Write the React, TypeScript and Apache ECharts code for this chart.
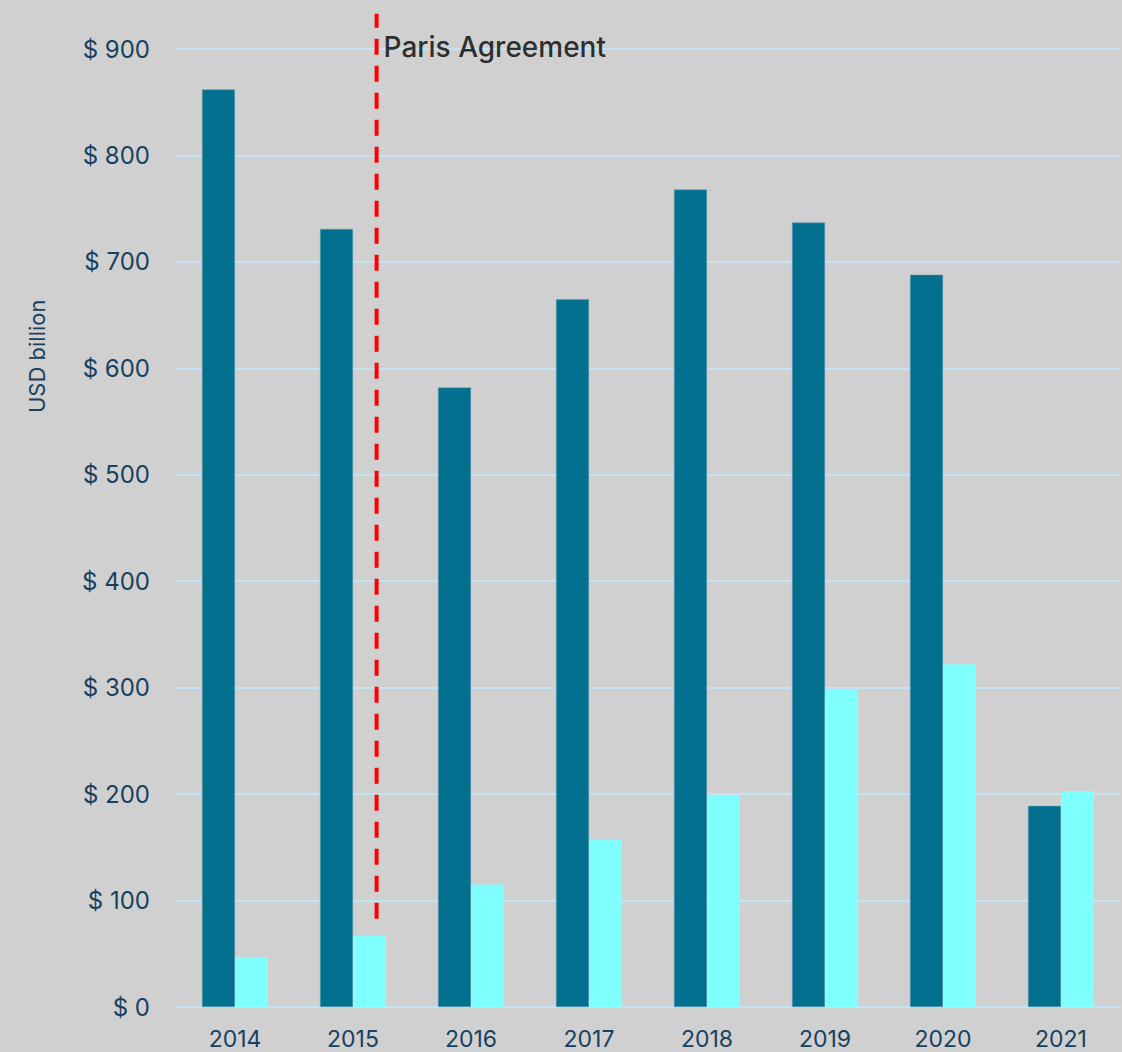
import React, { useEffect, useRef } from "react";
import * as echarts from "echarts";

const years = ["2014", "2015", "2016", "2017", "2018", "2019", "2020", "2021"];
const seriesDark = [862, 731, 582, 665, 768, 737, 688, 189];
const seriesLight = [47, 67, 115, 157, 199, 298, 322, 203];
const yTicks = { min: 0, max: 900, interval: 100 };
const parisX = 1.2; // position between categories (index units)
const parisLine = [[parisX, 83], [parisX, 933]];
const parisLabelPoint = [[parisX, 902]];
const parisLabel = "Paris Agreement";
const yAxisTitle = "USD billion";

const FONT = "Inter, 'Noto Sans', sans-serif";
const NAVY = "#17415f";

export default function App() {
  const ref = useRef<HTMLDivElement>(null);
  useEffect(() => {
    document.body.style.margin = "0";
    document.body.style.overflow = "hidden";
    const chart = echarts.init(ref.current!, null, { renderer: "svg" });
    chart.setOption({
      animation: false,
      backgroundColor: "#d0d0d0",
      grid: { left: 176, right: 2, top: 49, bottom: 45, containLabel: false },
      graphic: [
        {
          type: "text",
          x: 37,
          y: 413,
          rotation: Math.PI / 2,
          style: {
            text: yAxisTitle,
            fill: NAVY,
            fontSize: 22,
            fontFamily: FONT,
            textAlign: "left",
            textVerticalAlign: "middle",
          },
        },
      ],
      xAxis: [
        {
          type: "category",
          data: years,
          axisLine: { show: true, lineStyle: { color: "#c5e3f5", width: 2 } },
          axisTick: { show: false },
          axisLabel: { color: NAVY, fontSize: 23, fontFamily: FONT, margin: 20 },
        },
        { type: "value", min: -0.5, max: 7.5, show: false },
      ],
      yAxis: {
        type: "value",
        min: yTicks.min,
        max: yTicks.max,
        interval: yTicks.interval,
        axisLine: { show: false },
        axisTick: { show: false },
        axisLabel: {
          color: NAVY,
          fontSize: 24,
          fontFamily: FONT,
          margin: 26,
          formatter: (v: number) => "$ " + v,
        },
        splitLine: { lineStyle: { color: "#c5e3f5", width: 2 } },
      },
      series: [
        {
          type: "bar",
          data: seriesDark,
          barWidth: 33,
          barGap: "0%",
          itemStyle: { color: "#03708f", borderColor: "#6aa3b4", borderWidth: 0.5 },
        },
        {
          type: "bar",
          data: seriesLight,
          barWidth: 33,
          barGap: "0%",
          itemStyle: { color: "#80ffff" },
        },
        {
          type: "line",
          xAxisIndex: 1,
          data: parisLine,
          clip: false,
          symbol: "none",
          lineStyle: { color: "#ff0000", width: 4, type: [16, 11] },
          z: 5,
        },
        {
          type: "scatter",
          xAxisIndex: 1,
          data: parisLabelPoint,
          symbolSize: 0,
          clip: false,
          label: {
            show: true,
            position: "right",
            distance: 7,
            formatter: parisLabel,
            color: "#000000",
            fontSize: 28,
            fontWeight: 500,
            fontFamily: FONT,
          },
          z: 6,
        },
      ],
    });
    return () => chart.dispose();
  }, []);
  return <div ref={ref} style={{ width: 1122, height: 1052 }} />;
}
